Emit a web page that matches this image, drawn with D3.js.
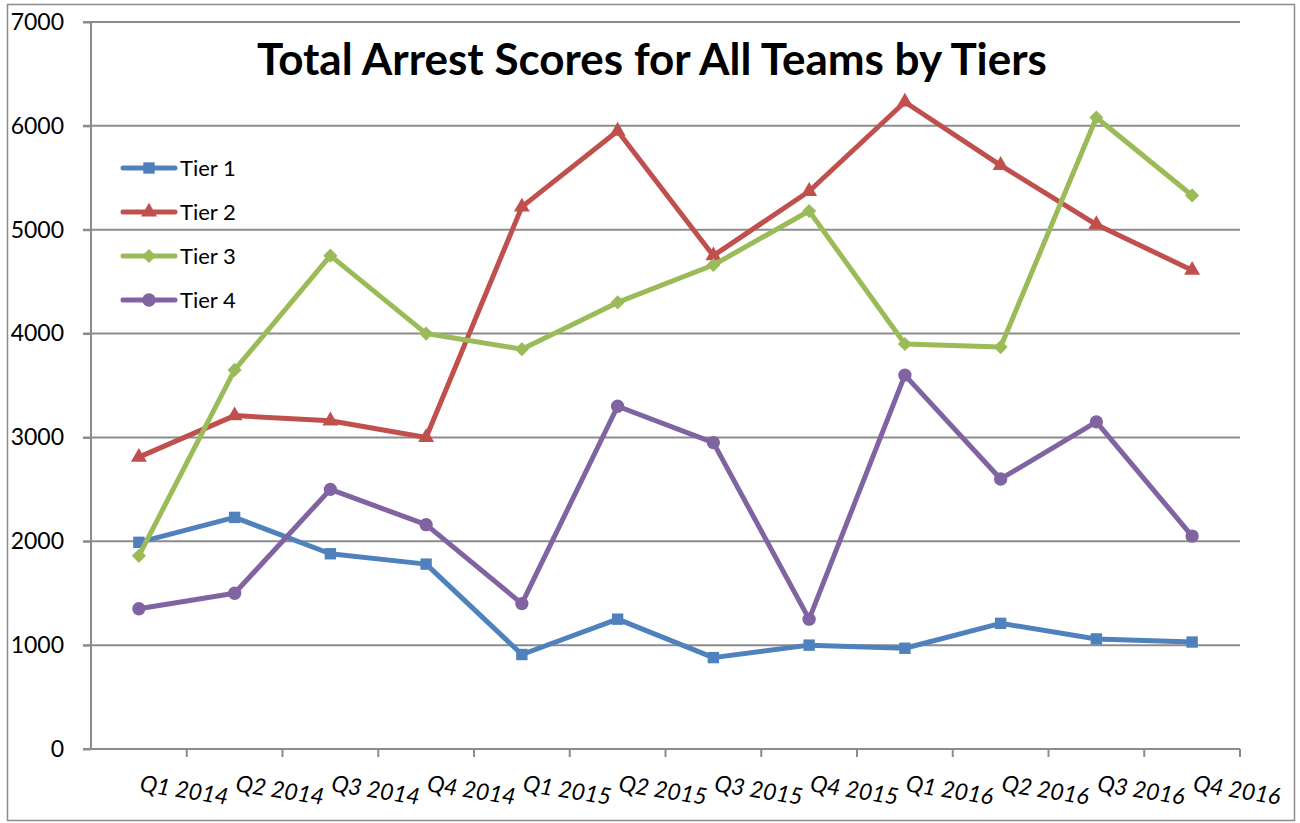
<!DOCTYPE html>
<html>
<head>
<meta charset="utf-8">
<script src="https://d3js.org/d3.v7.min.js"></script>
<style>
  body { margin: 0; background: #fff; }
  svg { font-family: Lato, "Open Sans", sans-serif; }
</style>
</head>
<body>
<svg id="chart" width="1300" height="823"></svg>
<script>
const quarters = ['Q1 2014', 'Q2 2014', 'Q3 2014', 'Q4 2014', 'Q1 2015', 'Q2 2015',
                  'Q3 2015', 'Q4 2015', 'Q1 2016', 'Q2 2016', 'Q3 2016', 'Q4 2016'];
const tier1 = [1990, 2230, 1880, 1780, 910, 1250, 880, 1000, 970, 1210, 1060, 1030];
const tier2 = [2810, 3210, 3160, 3000, 5220, 5950, 4750, 5370, 6230, 5620, 5050, 4610];
const tier3 = [1860, 3650, 4750, 4000, 3850, 4300, 4660, 5180, 3900, 3870, 6080, 5330];
const tier4 = [1350, 1500, 2500, 2160, 1400, 3300, 2950, 1250, 3600, 2600, 3150, 2050];
const yTicks = [0, 1000, 2000, 3000, 4000, 5000, 6000, 7000];

const series = [
  {name: 'Tier 1', values: tier1, color: '#4F81BD', shape: d3.symbolSquare, size: 130, rot: 0},
  {name: 'Tier 2', values: tier2, color: '#C0504D', shape: d3.symbolTriangle, size: 110, rot: 0},
  {name: 'Tier 3', values: tier3, color: '#9BBB59', shape: d3.symbolSquare, size: 100, rot: 45},
  {name: 'Tier 4', values: tier4, color: '#8064A2', shape: d3.symbolCircle, size: 140, rot: 0}
];

const svg = d3.select('#chart');
const plotLeft = 91, plotRight = 1240, plotTop = 22, plotBottom = 749;

// outer frame
svg.append('rect')
  .attr('x', 7.5).attr('y', 4.5).attr('width', 1287).attr('height', 816)
  .attr('fill', 'none').attr('stroke', '#8c8c8c').attr('stroke-width', 1.5);

const x = d3.scaleBand().domain(quarters).range([plotLeft, plotRight]);
const y = d3.scaleLinear().domain([0, 7000]).range([plotBottom, plotTop]);

// gridlines
svg.append('g')
  .selectAll('line')
  .data(yTicks.filter(d => d > 0))
  .enter()
  .append('line')
  .attr('x1', plotLeft - 8).attr('x2', plotRight)
  .attr('y1', d => y(d)).attr('y2', d => y(d))
  .attr('stroke', '#8c8c8c').attr('stroke-width', 2);

// y axis
const yAxis = svg.append('g')
  .attr('transform', `translate(${plotLeft},0)`)
  .call(d3.axisLeft(y).tickValues(yTicks).tickSize(8).tickPadding(19).tickFormat(d3.format('d')));
yAxis.selectAll('line, path').attr('stroke', '#8c8c8c').attr('stroke-width', 2);
yAxis.select('.domain').attr('d', `M-8,${plotBottom}H0V${plotTop}H-8`);
yAxis.selectAll('text').attr('font-size', 23).attr('fill', '#000').attr('font-family', 'Lato, sans-serif');

// x axis
svg.append('line')
  .attr('x1', plotLeft).attr('x2', plotRight)
  .attr('y1', plotBottom).attr('y2', plotBottom)
  .attr('stroke', '#8c8c8c').attr('stroke-width', 2);
svg.append('g')
  .selectAll('line')
  .data(quarters)
  .enter()
  .append('line')
  .attr('x1', d => x(d) + x.bandwidth()).attr('x2', d => x(d) + x.bandwidth())
  .attr('y1', plotBottom).attr('y2', plotBottom + 8)
  .attr('stroke', '#8c8c8c').attr('stroke-width', 2);
svg.append('g')
  .selectAll('text')
  .data(quarters)
  .enter()
  .append('text')
  .attr('transform', d => `translate(${x(d) + x.bandwidth() / 2},${plotBottom + 42}) rotate(9)`)
  .attr('font-size', 23)
  .attr('font-style', 'italic')
  .text(d => d);

// title
svg.append('text')
  .attr('x', 652).attr('y', 75)
  .attr('text-anchor', 'middle')
  .attr('font-size', 44).attr('font-weight', 'bold')
  .text('Total Arrest Scores for All Teams by Tiers');

// lines
const cx = d => x(d) + x.bandwidth() / 2;
const line = d3.line()
  .x((v, i) => cx(quarters[i]))
  .y(v => y(v));

series.forEach(s => {
  svg.append('path')
    .attr('d', line(s.values))
    .attr('fill', 'none')
    .attr('stroke', s.color)
    .attr('stroke-width', 5)
    .attr('stroke-linejoin', 'round')
    .attr('stroke-linecap', 'round');
  svg.append('g')
    .selectAll('path')
    .data(s.values)
    .enter()
    .append('path')
    .attr('transform', (v, i) => `translate(${cx(quarters[i])},${y(v)}) rotate(${s.rot})`)
    .attr('d', d3.symbol().type(s.shape).size(s.size))
    .attr('fill', s.color);
});

// legend
const legend = svg.append('g');
series.forEach((s, i) => {
  const ly = 168 + i * 44;
  legend.append('line')
    .attr('x1', 123).attr('x2', 175).attr('y1', ly).attr('y2', ly)
    .attr('stroke', s.color).attr('stroke-width', 5).attr('stroke-linecap', 'round');
  legend.append('path')
    .attr('transform', `translate(149,${ly}) rotate(${s.rot})`)
    .attr('d', d3.symbol().type(s.shape).size(s.size))
    .attr('fill', s.color);
  legend.append('text')
    .attr('x', 180).attr('y', ly + 8)
    .attr('font-size', 22)
    .text(s.name);
});
</script>
</body>
</html>
